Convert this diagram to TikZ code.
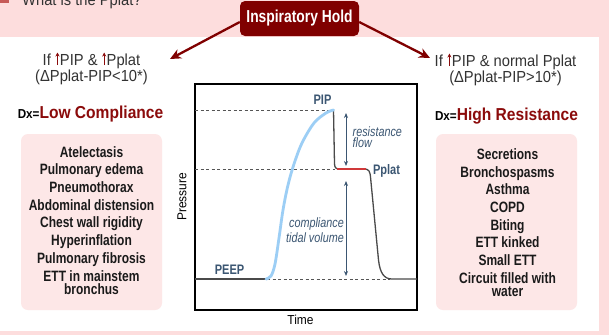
\documentclass[tikz,border=0pt]{standalone}
\usepackage{fontspec}
\setmainfont{Liberation Sans}[FakeStretch=0.92]
\newfontfamily\condfont{Liberation Sans}[FakeStretch=0.8]
\newfontfamily\semicond{Liberation Sans}[FakeStretch=0.9]
\usetikzlibrary{arrows.meta}

\definecolor{bgpink}{HTML}{FDDDDD}
\definecolor{listpink}{HTML}{FDE7E7}
\definecolor{holdred}{HTML}{800000}
\definecolor{dxred}{HTML}{8B0B0B}
\definecolor{bulletred}{HTML}{C65A58}
\definecolor{headgray}{HTML}{333333}
\definecolor{listblack}{HTML}{1A1A1A}
\definecolor{curveblue}{HTML}{9CCEF5}
\definecolor{labelblue}{HTML}{3B5672}
\definecolor{platred}{HTML}{D0393A}
\definecolor{tracegray}{HTML}{4A4A4A}
\definecolor{dashgray}{HTML}{555555}

% small red rising arrow used inside the condition lines
\newcommand{\risearrow}{\hspace{0.5pt}\tikz[baseline=0pt]\draw[dxred, line width=0.9pt, -{Stealth[length=4pt,width=4pt]}] (0pt,0pt) -- (0pt,12.5pt);\hspace{0.5pt}}

\tikzset{
  holdbox/.style={fill=holdred, rounded corners=5pt, minimum width=119pt, minimum height=35pt,
    text=white, font=\condfont\bfseries\fontsize{17.3}{20}\selectfont, inner sep=0pt},
  holdarrow/.style={draw=holdred, line width=2.3pt, -{Stealth[length=11pt,width=10pt]}},
  headtext/.style={text=headgray, font=\fontsize{16}{16}\selectfont, inner sep=0pt, anchor=base},
  dxline/.style={inner sep=0pt, anchor=base},
  listbox/.style={fill=listpink, rounded corners=7pt},
  listitem/.style={font=\condfont\bfseries\fontsize{15}{15}\selectfont, text=listblack, inner sep=0pt, anchor=base},
  framebox/.style={draw=black, line width=1.1pt},
  refline/.style={draw=dashgray, line width=0.9pt, dash pattern=on 3pt off 2.5pt},
  trace/.style={draw=tracegray, line width=1.3pt},
  inspcurve/.style={draw=curveblue, line width=2.8pt, line cap=round},
  platline/.style={draw=platred, line width=2.6pt},
  spanarrow/.style={draw=labelblue, line width=0.8pt, {Stealth[length=5pt,width=4pt]}-{Stealth[length=5pt,width=4pt]}},
  graphlabel/.style={text=labelblue, font=\condfont\bfseries\fontsize{13.8}{14}\selectfont, inner sep=0pt, anchor=base},
  spanlabel/.style={text=labelblue, font=\condfont\itshape\fontsize{13.5}{14}\selectfont, inner sep=0pt},
  axislabel/.style={text=black, font=\fontsize{13}{13}\selectfont, inner sep=0pt},
}

\begin{document}
\begin{tikzpicture}[x=1pt,y=-1pt]
\useasboundingbox (0,0) rectangle (609,335);

% page background and white panel
\fill[bgpink] (0,0) rectangle (609,335);
\fill[white] (0,37) rectangle (599,331);

% question line at the top
\fill[bulletred] (0,0) rectangle (9,3);
\node[text=headgray, font=\fontsize{16}{16}\selectfont, inner sep=0pt, anchor=base west] (question) at (22,5) {What is the Pplat?};

% central decision box and its two branches
\node[holdbox] (hold) at (299.5,18.5) {Inspiratory Hold};
\coordinate (tipL) at (170,59);
\coordinate (tipR) at (430,58);
\draw[holdarrow] ([yshift=-3.5pt]hold.west) -- (tipL);
\draw[holdarrow] ([yshift=-3.5pt]hold.east) -- (tipR);

% left branch: low compliance
\node[headtext] (ifL) at (91.5,65) {If \risearrow PIP \& \risearrow Pplat};
\node[headtext] (condL) at (91.5,81) {(ΔPplat-PIP<10*)};
\node[dxline] (dxL) at (90.5,118) {{\semicond\bfseries\fontsize{13}{13}\selectfont Dx=}{\semicond\bfseries\fontsize{17.3}{18}\selectfont\color{dxred}Low Compliance}};
\fill[listbox] (21,134) rectangle (162,310);
\foreach \t/\y [count=\i] in {Atelectasis/157, Pulmonary edema/174.7, Pneumothorax/192.4,
    Abdominal distension/210.1, Chest wall rigidity/227.8, Hyperinflation/245.5,
    Pulmonary fibrosis/263.2, ETT in mainstem/281, bronchus/294.5}
  \node[listitem] (cL\i) at (91.5,\y) {\t};

% right branch: high resistance
\node[headtext] (ifR) at (505.5,66) {If \risearrow PIP \& normal Pplat};
\node[headtext] (condR) at (505.5,82) {(ΔPplat-PIP>10*)};
\node[dxline] (dxR) at (506.5,120) {{\semicond\bfseries\fontsize{13}{13}\selectfont Dx=}{\semicond\bfseries\fontsize{17.3}{18}\selectfont\color{dxred}High Resistance}};
\fill[listbox] (436,134) rectangle (577,310);
\foreach \t/\y [count=\i] in {Secretions/159.3, Bronchospasms/177, Asthma/194.6,
    COPD/212.3, Biting/230, ETT kinked/247.7, Small ETT/265.4,
    Circuit filled with/283.3, water/296.5}
  \node[listitem] (cR\i) at (507.5,\y) {\t};

% pressure-time graph
\draw[framebox] (195,84) rectangle (417,310);
\node[axislabel, rotate=90] (ylab) at (182,197) {Pressure};
\node[axislabel, anchor=base] (xlab) at (300.5,324) {Time};

% reference levels
\draw[refline] (195,110) -- (333,110);
\draw[refline] (195,169) -- (335,169);
\draw[refline] (267,279) -- (390,279);

% pressure trace: baseline, release after the peak, plateau, expiration
\draw[trace] (195,279) -- (267,279);
\draw[trace, line join=round] (333.5,110) -- (334.5,164) .. controls (334.8,168) and (336,169) .. (340,169)
  -- (364,169) .. controls (369,169) and (370,171) .. (370.6,178)
  -- (378.5,260) .. controls (380,273) and (384,279) .. (392,279) -- (417,279);
\draw[platline] (337,169) -- (366,169);
\draw[inspcurve] plot[smooth, tension=0.55] coordinates {(266,279) (271,276) (275,264) (279,238)
  (283,210) (288,185) (294,164) (302,143) (314,123) (326,113) (333.5,110)};

% spans between levels
\coordinate (pipR) at (346,113);
\coordinate (platTop) at (346,166);
\coordinate (platBot) at (346,181);
\coordinate (peepR) at (346,276);
\draw[spanarrow] (pipR) -- (platTop);
\draw[spanarrow] (platBot) -- (peepR);
\node[spanlabel, anchor=base west] (res1) at (352.5,136) {resistance};
\node[spanlabel, anchor=base west] (res2) at (352.5,147.5) {flow};
\node[spanlabel, anchor=base east] (comp1) at (344,227) {compliance};
\node[spanlabel, anchor=base east] (comp2) at (344,242.5) {tidal volume};

% level names
\node[graphlabel] (pipLab) at (322.5,104) {PIP};
\node[graphlabel] (platLab) at (386.5,174) {Pplat};
\node[graphlabel] (peepLab) at (229.5,274) {PEEP};
\end{tikzpicture}
\end{document}
